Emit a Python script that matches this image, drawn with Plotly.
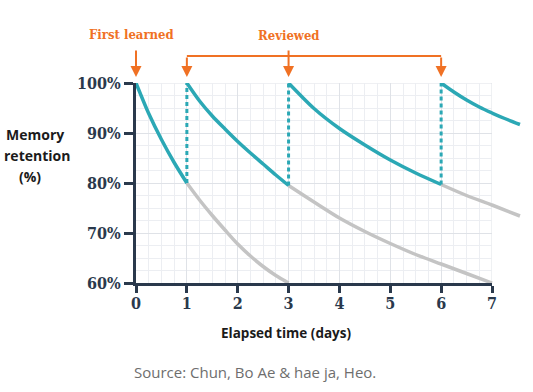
import plotly.graph_objects as go

# ---------------- data ----------------
days_1 = [0, 0.25, 0.5, 0.75, 1]
teal_1 = [100, 93.9, 88.7, 84.1, 80.0]

days_2 = [1, 1.25, 1.5, 1.75, 2, 2.25, 2.5, 2.75, 3]
teal_2 = [100, 96.4, 93.4, 90.8, 88.3, 86.0, 83.8, 81.6, 79.5]

days_3 = [3, 3.5, 4, 4.5, 5, 5.5, 6]
teal_3 = [100, 94.9, 90.9, 87.6, 84.6, 82.0, 79.7]

days_4 = [6, 6.25, 6.5, 6.75, 7, 7.25, 7.55]
teal_4 = [100, 98.2, 96.6, 95.2, 94.0, 92.9, 91.7]

gray_a_days = [1, 1.25, 1.5, 1.75, 2, 2.25, 2.5, 2.75, 3]
gray_a = [80.0, 76.6, 73.5, 70.6, 67.8, 65.4, 63.3, 61.5, 60.0]

gray_b_days = [3, 3.5, 4, 4.5, 5, 5.5, 6, 6.5, 7]
gray_b = [79.5, 76.2, 73.0, 70.3, 67.9, 65.7, 63.8, 61.9, 60.0]

gray_c_days = [6, 6.5, 7, 7.55]
gray_c = [79.7, 77.5, 75.6, 73.4]

review_days = [1, 3, 6]
review_from = [teal_1[-1], teal_2[-1], teal_3[-1]]

x_ticks = [0, 1, 2, 3, 4, 5, 6, 7]
y_ticks = [60, 70, 80, 90, 100]
y_labels = ["60%", "70%", "80%", "90%", "100%"]

# ---------------- style ----------------
W, H = 533, 392
TEAL = "#2ba8b5"
GRAY = "#c4c4c4"
NAVY = "#2a394c"
ORANGE = "#f07124"
GRID = "#dfe2e7"
MINOR = "#eceef2"
SERIF = "DejaVu Serif Condensed, DejaVu Serif"
SANS = "Open Sans"

px0, px7 = 136, 492           # pixel of day 0 and day 7
ptop, pbot = 83, 283          # pixel of 100% and 60%
ppd = (px7 - px0) / 7.0

dom_x = [px0 / W, px7 / W]
dom_x2 = [px7 / W, 1.0]
dom_y = [1 - pbot / H, 1 - ptop / H]

fig = go.Figure()

def add_line(x, y, color, width=3.5, dash=None):
    for xa, ya in (("x", "y"), ("x2", "y2")):
        fig.add_trace(go.Scatter(
            x=x, y=y, mode="lines", xaxis=xa, yaxis=ya,
            line=dict(color=color, width=width, shape="spline", smoothing=0.8,
                      dash=dash),
            hoverinfo="skip", showlegend=False))

# gray forgetting curves
add_line(gray_a_days, gray_a, GRAY)
add_line(gray_b_days, gray_b, GRAY)
add_line(gray_c_days, gray_c, GRAY)

# dashed review jumps
for d, y0 in zip(review_days, review_from):
    for xa, ya in (("x", "y"), ("x2", "y2")):
        fig.add_trace(go.Scatter(
            x=[d, d], y=[y0, 100], mode="lines", xaxis=xa, yaxis=ya,
            line=dict(color=TEAL, width=3, dash="4px,3px"),
            hoverinfo="skip", showlegend=False))

# teal retention curves
add_line(days_1, teal_1, TEAL)
add_line(days_2, teal_2, TEAL)
add_line(days_3, teal_3, TEAL)
add_line(days_4, teal_4, TEAL)

tickfont = dict(family=SERIF, size=16, color=NAVY, weight="bold")

fig.update_layout(
    width=W, height=H, autosize=False,
    margin=dict(l=0, r=0, t=0, b=0, pad=0, autoexpand=False),
    paper_bgcolor="white", plot_bgcolor="white",
    xaxis=dict(domain=dom_x, range=[0, 7], anchor="y", automargin=False,
               tickvals=x_ticks, ticktext=[str(v) for v in x_ticks],
               showline=True, linecolor=NAVY, linewidth=3,
               ticks="outside", ticklen=7, tickwidth=3, tickcolor=NAVY,
               ticklabelstandoff=-3,
               tickfont=tickfont, showgrid=True, gridcolor=GRID, gridwidth=1,
               minor=dict(dtick=0.25, tick0=0, showgrid=True, gridcolor=MINOR, gridwidth=1),
               zeroline=False, fixedrange=True),
    yaxis=dict(domain=dom_y, range=[60, 100], anchor="x", automargin=False,
               tickvals=y_ticks, ticktext=y_labels,
               showline=True, linecolor=NAVY, linewidth=3,
               ticks="outside", ticklen=9, tickwidth=3, tickcolor=NAVY,
               tickfont=tickfont, showgrid=True, gridcolor=GRID, gridwidth=1,
               minor=dict(dtick=2.5, tick0=60, showgrid=True, gridcolor=MINOR, gridwidth=1),
               zeroline=False, fixedrange=True),
    xaxis2=dict(domain=dom_x2, range=[7, 7 + (W - px7) / ppd], anchor="y2",
                visible=False, automargin=False, fixedrange=True),
    yaxis2=dict(domain=dom_y, range=[60, 100], anchor="x2",
                visible=False, automargin=False, fixedrange=True),
)

# light border at 100% and day 7 (grid edge)
fig.add_shape(type="line", xref="x", yref="y", x0=0, x1=7, y0=100, y1=100,
              line=dict(color=GRID, width=1), layer="below")
fig.add_shape(type="line", xref="x", yref="y", x0=7, x1=7, y0=60, y1=100,
              line=dict(color=GRID, width=1), layer="below")

# ---------------- annotations ----------------
def yp(py):
    return 1 - py / H

tip = yp(77)
for d, tail in ((0, 49), (1, 56), (3, 49), (6, 56)):
    fig.add_annotation(x=d, y=tip, xref="x", yref="paper", text="",
                       showarrow=True, ax=0, ay=-(77 - tail), axref="pixel",
                       arrowhead=2, arrowsize=1.1, arrowwidth=2, arrowcolor=ORANGE)
fig.add_shape(type="line", xref="x", yref="paper", x0=1, x1=6, y0=yp(56), y1=yp(56),
              line=dict(color=ORANGE, width=2))

fig.add_annotation(x=0, xshift=-4.5, y=yp(34), xref="x", yref="paper",
                   xanchor="center", yanchor="middle",
                   text="First learned", showarrow=False,
                   font=dict(family=SERIF, size=13, color=ORANGE, weight="bold"))
fig.add_annotation(x=3, y=yp(35.5), xref="x", yref="paper",
                   xanchor="center", yanchor="middle",
                   text="Reviewed", showarrow=False,
                   font=dict(family=SERIF, size=13, color=ORANGE, weight="bold"))

for txt, cx, cy in (("Memory", 34.5, 134), ("retention", 37, 155), ("(%)", 30, 176)):
    fig.add_annotation(x=cx / W, y=yp(cy), xref="paper", yref="paper", text=txt,
                       xanchor="center", yanchor="middle", showarrow=False,
                       font=dict(family=SANS, size=14, color="#1b1b1b", weight="bold"))

fig.add_annotation(x=285.7 / W, y=yp(333), xref="paper", yref="paper",
                   xanchor="center", yanchor="middle",
                   text="Elapsed time (days)", showarrow=False,
                   font=dict(family=SANS, size=13.5, color="#1b1b1b", weight="bold"))

fig.add_annotation(x=132 / W, y=yp(372), xref="paper", yref="paper",
                   xanchor="left", yanchor="middle",
                   text="Source: Chun, Bo Ae & hae ja, Heo.", showarrow=False,
                   font=dict(family=SANS, size=15, color="#6e6e6e"))

fig.write_html("out.html", config={"displayModeBar": False},
               post_script="document.body.style.margin='0';")
